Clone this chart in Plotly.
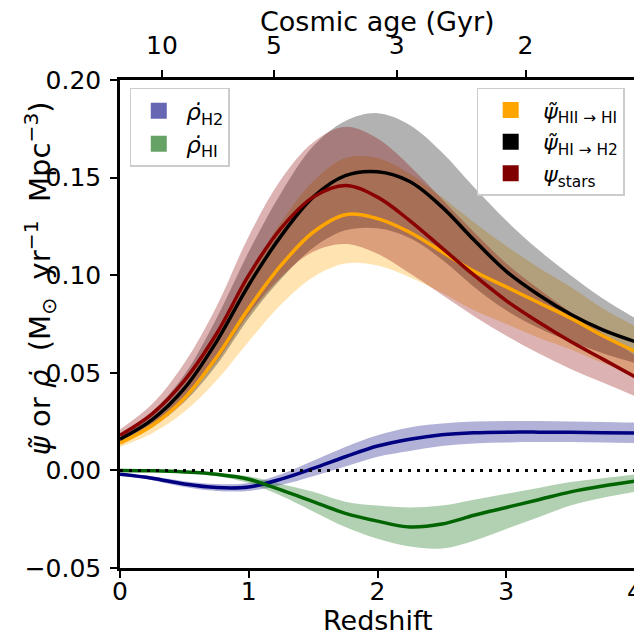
import plotly.graph_objects as go

# ---- data ----
redshift = [0, 0.25, 0.5, 0.75, 1.0, 1.25, 1.5, 1.75, 2.0, 2.25, 2.5, 2.75, 3.0, 3.25, 3.5, 3.75, 4.0]

psi_HII_HI = [.014, .023, .037, .058, .083, .105, .122, .131, .129, .122, .112, .102, .094, .086, .078, .069, .061]
psi_HII_HI_hi = [.016, .027, .044, .070, .100, .127, .148, .160, .160, .152, .140, .127, .115, .104, .094, .083, .074]
psi_HII_HI_lo = [.012, .019, .030, .046, .066, .085, .099, .106, .105, .099, .091, .082, .075, .068, .062, .055, .049]

psi_HI_H2 = [.016, .026, .042, .066, .095, .120, .140, .151, .153, .148, .135, .118, .102, .090, .080, .072, .066]
psi_HI_H2_hi = [.018, .030, .049, .078, .112, .142, .166, .179, .183, .177, .163, .145, .128, .113, .100, .088, .078]
psi_HI_H2_lo = [.014, .022, .035, .054, .078, .098, .114, .123, .124, .119, .108, .094, .082, .073, .066, .060, .055]

psi_stars = [.018, .029, .046, .070, .100, .124, .140, .146, .140, .128, .114, .100, .087, .076, .066, .057, .048]
psi_stars_hi = [.021, .034, .055, .084, .120, .149, .168, .176, .170, .156, .139, .122, .106, .093, .081, .070, .059]
psi_stars_lo = [.015, .024, .037, .056, .080, .099, .112, .116, .111, .101, .090, .079, .069, .060, .052, .045, .038]

rho_H2 = [-.002, -.004, -.007, -.0088, -.0085, -.0045, .001, .007, .0125, .016, .0183, .0193, .0196, .0196, .0195, .0193, .0191]
rho_H2_hi = [-.0015, -.003, -.0055, -.007, -.0065, -.002, .005, .012, .018, .022, .024, .025, .0253, .0253, .025, .0248, .0245]
rho_H2_lo = [-.0025, -.005, -.0085, -.0105, -.0105, -.0075, -.003, .002, .007, .010, .0125, .0138, .0143, .0145, .0145, .0143, .014]

rho_HI = [0, -.0002, -.0008, -.002, -.0045, -.010, -.016, -.022, -.026, -.029, -.0275, -.023, -.019, -.015, -.011, -.008, -.0055]
rho_HI_hi = [0, -.0001, -.0005, -.0013, -.003, -.007, -.011, -.016, -.018, -.019, -.018, -.015, -.012, -.009, -.006, -.004, -.002]
rho_HI_lo = [0, -.0003, -.0012, -.003, -.0065, -.013, -.021, -.029, -.035, -.039, -.040, -.036, -.030, -.024, -.018, -.014, -.011]

age_ticks_z = [0.326, 1.196, 2.15, 3.15]
age_tick_labels = ["10", "5", "3", "2"]
x_ticks = [0, 1, 2, 3, 4]
y_ticks = [-0.05, 0.0, 0.05, 0.10, 0.15, 0.20]

x_title = "Redshift"
top_title = "Cosmic age (Gyr)"
y_title = "<i>ψ̃</i> or <i>ρ̇</i>  (M<sub>⊙</sub>  yr<sup>−1</sup>  Mpc<sup>−3</sup>)"

FONT = "DejaVu Sans"
fig = go.Figure()

def band(hi, lo, fillcolor):
    fig.add_trace(go.Scatter(x=redshift, y=hi, mode="lines", line=dict(width=0, shape="spline"),
                             showlegend=False, hoverinfo="skip"))
    fig.add_trace(go.Scatter(x=redshift, y=lo, mode="lines", line=dict(width=0, shape="spline"),
                             fill="tonexty", fillcolor=fillcolor, showlegend=False, hoverinfo="skip"))

band(rho_H2_hi, rho_H2_lo, "rgba(0,0,128,0.3)")
band(rho_HI_hi, rho_HI_lo, "rgba(0,100,0,0.3)")
band(psi_HII_HI_hi, psi_HII_HI_lo, "rgba(255,165,0,0.3)")
band(psi_HI_H2_hi, psi_HI_H2_lo, "rgba(0,0,0,0.3)")
band(psi_stars_hi, psi_stars_lo, "rgba(139,0,0,0.3)")

def line(y, color):
    fig.add_trace(go.Scatter(x=redshift, y=y, mode="lines", line=dict(color=color, width=3.5, shape="spline"),
                             showlegend=False, hoverinfo="skip"))

line(rho_H2, "#000080")
line(rho_HI, "#006400")
line(psi_HII_HI, "#FFA500")
line(psi_HI_H2, "#000000")
line(psi_stars, "#8B0000")

fig.add_hline(y=0, line=dict(color="black", width=3, dash="3px,6px"))

# legend entries
def leg(name, color, legend):
    fig.add_trace(go.Scatter(x=[None], y=[None], mode="markers", name=name,
                             marker=dict(symbol="square", size=16, color=color), legend=legend))

leg("<i>ρ̇</i><sub>H2</sub>", "rgba(102,102,179,1)", "legend")
leg("<i>ρ̇</i><sub>HI</sub>", "rgba(102,162,102,1)", "legend")
leg("<i>ψ̃</i><sub>HII → HI</sub>", "#FFA500", "legend2")
leg("<i>ψ̃</i><sub>HI → H2</sub>", "#000000", "legend2")
leg("<i>ψ</i><sub>stars</sub>", "#800000", "legend2")

# helper trace for the top axis
fig.add_trace(go.Scatter(x=redshift, y=psi_HI_H2, xaxis="x2", mode="lines", opacity=0,
                         showlegend=False, hoverinfo="skip"))

axis_common = dict(showgrid=False, zeroline=False, showline=True, linecolor="black", linewidth=2.5,
                   ticks="outside", ticklen=7, tickwidth=2, tickcolor="black", automargin=False,
                   tickfont=dict(family=FONT, size=25, color="black"))

fig.update_layout(
    width=642, height=637,
    margin=dict(l=112, r=15, t=72, b=77),
    paper_bgcolor="white", plot_bgcolor="white",
    font=dict(family=FONT, color="black"),
    xaxis=dict(range=[0, 4], tickvals=x_ticks, ticktext=[str(v) for v in x_ticks],
               ticklabelstandoff=-8, mirror=False, **axis_common),
    xaxis2=dict(range=[0, 4], overlaying="x", side="top", tickvals=age_ticks_z,
                ticktext=age_tick_labels, ticklabelstandoff=6, **axis_common),
    yaxis=dict(range=[-0.05, 0.20], tickvals=y_ticks, tickformat=".2f", ticklabelstandoff=4,
               mirror=True, **axis_common),
    legend=dict(x=0.019, y=0.984, xanchor="left", yanchor="top", bgcolor="rgba(255,255,255,0.8)",
                bordercolor="#cccccc", borderwidth=1.5, font=dict(family=FONT, size=23),
                itemwidth=45, traceorder="normal"),
    legend2=dict(x=0.98, y=0.984, xanchor="right", yanchor="top", bgcolor="rgba(255,255,255,0.8)",
                 bordercolor="#cccccc", borderwidth=1.5, font=dict(family=FONT, size=22),
                 itemwidth=55, traceorder="normal"),
)

fig.add_annotation(text=x_title, xref="paper", yref="paper", x=0.5, y=-0.107,
                   xanchor="center", yanchor="middle",
                   showarrow=False, font=dict(family=FONT, size=27, color="black"))
fig.add_annotation(text=top_title, xref="paper", yref="paper", x=0.5, y=1.12,
                   xanchor="center", yanchor="middle",
                   showarrow=False, font=dict(family=FONT, size=27, color="black"))
fig.add_annotation(text=y_title, xref="paper", yref="paper", x=-0.155, y=0.594, textangle=-90,
                   xanchor="center", yanchor="middle",
                   showarrow=False, font=dict(family=FONT, size=29, color="black"))

fig.write_html("out.html")
